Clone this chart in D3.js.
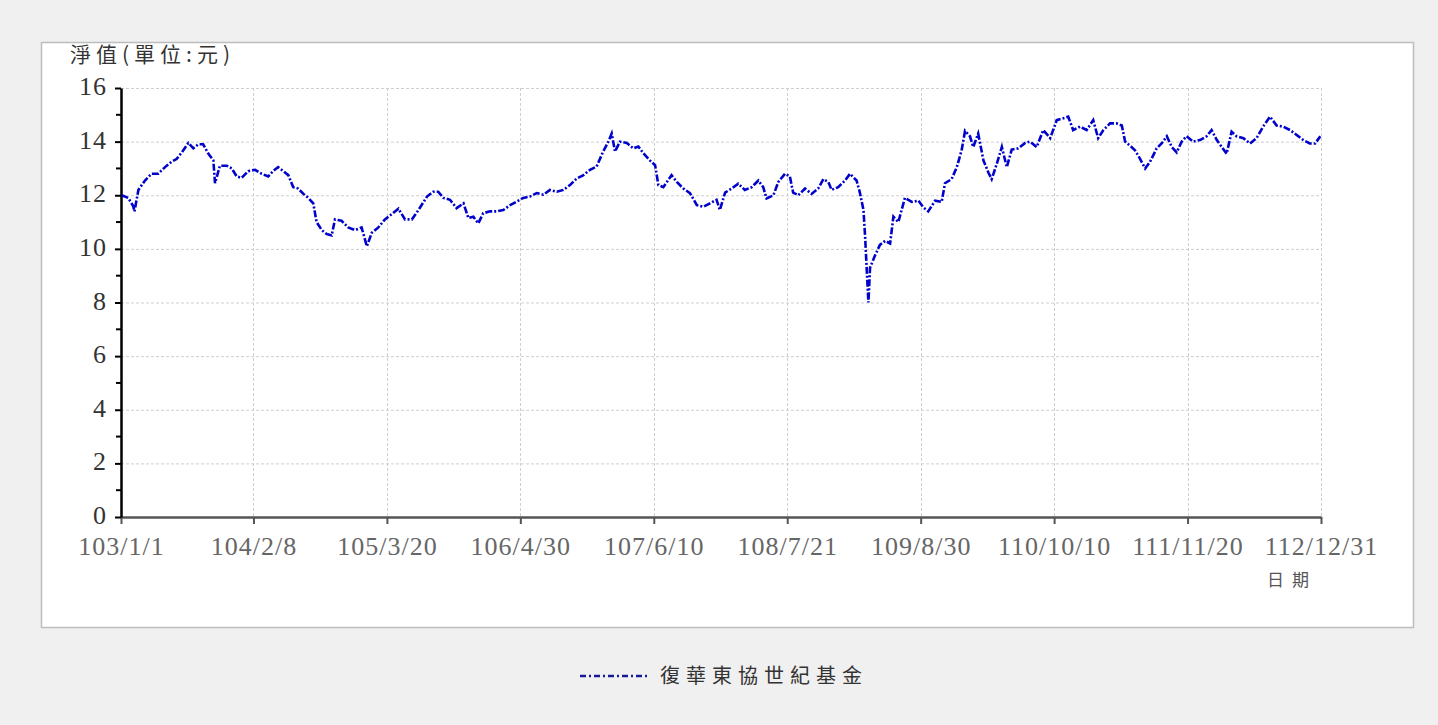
<!DOCTYPE html>
<html>
<head>
<meta charset="utf-8">
<script src="https://cdn.jsdelivr.net/npm/d3@7"></script>
<style>
html, body { margin: 0; padding: 0; background: #f0f0f0; }
</style>
</head>
<body>
<div id="chart"></div>
<script>
// 淨值資料
const navDates = [
	'2014-01-03','2014-01-23','2014-02-07','2014-02-11','2014-02-23','2014-03-15','2014-04-04','2014-04-24','2014-05-15','2014-06-04',
	'2014-06-19','2014-07-05','2014-07-25','2014-08-09','2014-08-24','2014-09-08','2014-09-24','2014-10-09','2014-10-14','2014-10-29',
	'2014-11-19','2014-12-04','2014-12-19','2015-01-03','2015-01-23','2015-02-13','2015-03-05','2015-03-25','2015-04-09','2015-04-24',
	'2015-05-10','2015-05-25','2015-06-09','2015-06-24','2015-07-10','2015-07-25','2015-08-09','2015-08-19','2015-09-04','2015-09-19',
	'2015-10-04','2015-10-14','2015-11-03','2015-11-23','2015-12-14','2016-01-03','2016-01-19','2016-02-03','2016-02-23','2016-03-14',
	'2016-04-04','2016-04-24','2016-05-14','2016-06-04','2016-06-24','2016-07-20','2016-08-08','2016-08-23','2016-09-08','2016-09-28',
	'2016-10-18','2016-11-08','2016-11-23','2016-12-08','2016-12-23','2017-01-07','2017-01-28','2017-02-17','2017-03-09','2017-03-30',
	'2017-04-19','2017-05-09','2017-05-29','2017-06-19','2017-07-09','2017-07-29','2017-08-19','2017-09-08','2017-09-28','2017-10-19',
	'2017-11-08','2017-11-28','2017-12-18','2018-01-07','2018-01-23','2018-02-02','2018-02-12','2018-02-27','2018-03-20','2018-04-09',
	'2018-04-24','2018-05-09','2018-05-29','2018-06-14','2018-06-24','2018-07-09','2018-08-03','2018-08-19','2018-09-08','2018-09-28',
	'2018-10-19','2018-11-08','2018-11-28','2018-12-18','2018-12-28','2019-01-13','2019-02-02','2019-02-22','2019-03-14','2019-04-04',
	'2019-04-24','2019-05-09','2019-05-19','2019-06-09','2019-06-24','2019-07-14','2019-07-29','2019-08-08','2019-08-24','2019-09-13',
	'2019-10-03','2019-10-23','2019-11-08','2019-11-23','2019-12-03','2019-12-23','2020-01-13','2020-01-28','2020-02-05','2020-02-17',
	'2020-02-27','2020-03-09','2020-03-14','2020-03-19','2020-03-24','2020-03-29','2020-04-13','2020-04-28','2020-05-14','2020-05-29',
	'2020-06-08','2020-06-23','2020-07-13','2020-08-03','2020-08-23','2020-09-07','2020-09-22','2020-10-13','2020-11-02','2020-11-12',
	'2020-12-02','2020-12-18','2021-01-02','2021-01-12','2021-01-27','2021-02-06','2021-02-21','2021-03-09','2021-03-24','2021-04-03',
	'2021-04-18','2021-05-04','2021-05-19','2021-06-03','2021-06-23','2021-07-14','2021-07-29','2021-08-18','2021-09-07','2021-09-28',
	'2021-10-18','2021-11-07','2021-11-22','2021-12-07','2021-12-28','2022-01-17','2022-02-06','2022-02-21','2022-03-09','2022-03-29',
	'2022-04-18','2022-05-04','2022-05-14','2022-05-29','2022-06-13','2022-06-28','2022-07-14','2022-07-29','2022-08-18','2022-09-02',
	'2022-09-18','2022-10-03','2022-10-18','2022-11-02','2022-11-17','2022-12-07','2022-12-28','2023-01-17','2023-02-01','2023-02-17',
	'2023-03-04','2023-03-19','2023-04-03','2023-04-18','2023-05-09','2023-05-29','2023-06-18','2023-07-08','2023-07-29','2023-08-18',
	'2023-09-07','2023-09-28','2023-10-18','2023-11-07','2023-11-27','2023-12-13','2023-12-29'
];
const navValues = [
	12.0, 11.9, 11.6, 11.4, 12.2, 12.55, 12.8, 12.8, 13.05, 13.25,
	13.35, 13.6, 13.95, 13.75, 13.9, 13.9, 13.55, 13.3, 12.45, 13.1,
	13.1, 13.0, 12.7, 12.65, 12.9, 12.95, 12.8, 12.7, 12.9, 13.05,
	12.9, 12.75, 12.3, 12.25, 12.05, 11.9, 11.7, 11.0, 10.7, 10.55,
	10.5, 11.1, 11.05, 10.8, 10.7, 10.8, 10.1, 10.6, 10.8, 11.1,
	11.3, 11.5, 11.1, 11.1, 11.45, 11.95, 12.13, 12.13, 11.9, 11.83,
	11.52, 11.7, 11.15, 11.2, 10.95, 11.33, 11.4, 11.4, 11.45, 11.63,
	11.76, 11.9, 11.95, 12.08, 12.02, 12.2, 12.13, 12.2, 12.38, 12.63,
	12.75, 12.95, 13.07, 13.63, 14.0, 14.3, 13.63, 14.0, 13.95, 13.75,
	13.82, 13.57, 13.3, 13.12, 12.38, 12.3, 12.75, 12.5, 12.25, 12.08,
	11.63, 11.57, 11.7, 11.83, 11.45, 12.1, 12.25, 12.43, 12.2, 12.3,
	12.55, 12.3, 11.88, 12.0, 12.5, 12.8, 12.7, 12.1, 12.0, 12.25,
	12.05, 12.25, 12.6, 12.5, 12.2, 12.3, 12.55, 12.8, 12.7, 12.55,
	12.1, 11.45, 10.45, 9.2, 8.0, 9.3, 9.75, 10.15, 10.3, 10.2,
	11.2, 11.0, 11.9, 11.75, 11.8, 11.55, 11.4, 11.8, 11.75, 12.45,
	12.6, 13.05, 13.7, 14.4, 14.2, 13.8, 14.3, 13.3, 12.85, 12.6,
	13.15, 13.8, 13.05, 13.7, 13.75, 13.95, 14.0, 13.8, 14.43, 14.13,
	14.8, 14.87, 14.93, 14.43, 14.56, 14.43, 14.8, 14.13, 14.43, 14.68,
	14.68, 14.6, 14.0, 13.85, 13.68, 13.37, 13.0, 13.25, 13.75, 13.93,
	14.2, 13.8, 13.6, 14.0, 14.2, 14.0, 14.06, 14.2, 14.43, 14.06,
	13.8, 13.55, 14.37, 14.2, 14.13, 13.93, 14.13, 14.56, 14.93, 14.6,
	14.56, 14.43, 14.25, 14.06, 13.93, 13.93, 14.2
];

// 民國日期刻度
const xTickLabels = ['103/1/1', '104/2/8', '105/3/20', '106/4/30', '107/6/10', '108/7/21', '109/8/30', '110/10/10', '111/11/20', '112/12/31'];
const yTicks = [0, 2, 4, 6, 8, 10, 12, 14, 16];
const yMinorTicks = [1, 3, 5, 7, 9, 11, 13, 15];
const seriesName = '復華東協世紀基金';

const options = {
	w: 1438,
	h: 725,
	left: 121,
	right: 1321,
	top: 88,
	bottom: 517,
	lineColor: '#0000cc',
	numFont: '"Liberation Serif", "Times New Roman", serif',
	cjkFont: '"Noto Sans CJK TC", "Noto Sans CJK SC", sans-serif'
};

const rocToDate = s => {
	const [y, m, d] = s.split('/').map(Number);
	return new Date(Date.UTC(y + 1911, m - 1, d));
};

const data = navDates.map((d, i) => ({ date: new Date(d + 'T00:00:00Z'), value: navValues[i] }));
const xTickDates = xTickLabels.map(rocToDate);

const x = d3.scaleUtc()
	.domain([xTickDates[0], xTickDates[xTickDates.length - 1]])
	.range([options.left, options.right]);
const y = d3.scaleLinear().domain([0, 16]).range([options.bottom, options.top]);

const svg = d3.select('#chart').append('svg')
	.attr('width', options.w)
	.attr('height', options.h)
	.style('display', 'block');

// 背景面板
svg.append('rect')
	.attr('x', 41.5).attr('y', 42.5)
	.attr('width', 1372).attr('height', 585)
	.attr('fill', '#fff')
	.attr('stroke', '#bdbdbd')
	.attr('stroke-width', 1.5);

// 格線
const grid = svg.append('g').attr('class', 'grid');
grid.selectAll('line.h')
	.data(yTicks.filter(v => v > 0))
	.enter().append('line')
	.attr('x1', options.left).attr('x2', options.right)
	.attr('y1', d => y(d) + 0.5).attr('y2', d => y(d) + 0.5)
	.attr('stroke', '#cfcfcf')
	.attr('stroke-dasharray', '3,2');
grid.selectAll('line.v')
	.data(xTickDates.slice(1))
	.enter().append('line')
	.attr('x1', d => Math.round(x(d)) + 0.5).attr('x2', d => Math.round(x(d)) + 0.5)
	.attr('y1', options.top).attr('y2', options.bottom)
	.attr('stroke', '#cfcfcf')
	.attr('stroke-dasharray', '3,2');

// X 軸
const xAxis = d3.axisBottom(x)
	.tickValues(xTickDates)
	.tickFormat((d, i) => xTickLabels[i])
	.tickSize(7)
	.tickSizeOuter(0);

const gx = svg.append('g')
	.attr('transform', `translate(0,${options.bottom})`)
	.call(xAxis);
gx.select('.domain').attr('stroke', '#555').attr('stroke-width', 2.5);
gx.selectAll('.tick line').attr('stroke', '#555').attr('stroke-width', 2);
gx.selectAll('.tick text')
	.attr('y', 20)
	.attr('dy', '0.71em')
	.style('font-family', options.numFont)
	.style('font-size', '26px')
	.style('letter-spacing', '1px')
	.attr('fill', '#666');

// Y 軸
const yAxis = d3.axisLeft(y)
	.tickValues(yTicks)
	.tickSize(6)
	.tickSizeOuter(0);

const gy = svg.append('g')
	.attr('transform', `translate(${options.left},0)`)
	.call(yAxis);
gy.select('.domain').attr('stroke', '#000').attr('stroke-width', 2.5);
gy.selectAll('.tick line').attr('stroke', '#000').attr('stroke-width', 2);
gy.selectAll('.tick text')
	.attr('x', -14)
	.attr('dy', '0.25em')
	.style('font-family', options.numFont)
	.style('font-size', '26px')
	.style('letter-spacing', '1px')
	.attr('fill', '#333');

gy.selectAll('line.minor')
	.data(yMinorTicks)
	.enter().append('line')
	.attr('class', 'minor')
	.attr('x1', -5).attr('x2', 0)
	.attr('y1', d => y(d)).attr('y2', d => y(d))
	.attr('stroke', '#000')
	.attr('stroke-width', 2);

// 折線
const line = d3.line()
	.curve(d3.curveLinear)
	.x(d => x(d.date))
	.y(d => y(d.value));

svg.append('path')
	.datum(data)
	.attr('d', line)
	.attr('fill', 'none')
	.attr('stroke', options.lineColor)
	.attr('stroke-width', 2.6)
	.attr('stroke-dasharray', '7,2,2,2');

// 標題文字
svg.append('text')
	.attr('x', 70).attr('y', 62)
	.text('淨值(單位:元)')
	.style('font-family', options.cjkFont)
	.style('font-size', '21px')
	.style('letter-spacing', '5px')
	.attr('fill', '#333');

svg.append('text')
	.attr('x', 1292).attr('y', 586)
	.attr('text-anchor', 'middle')
	.text('日期')
	.style('font-family', options.cjkFont)
	.style('font-size', '17px')
	.style('letter-spacing', '8px')
	.attr('fill', '#555');

// 圖例
const legend = svg.append('g').attr('transform', 'translate(580,676)');
legend.append('line')
	.attr('x1', 0).attr('x2', 70)
	.attr('y1', 0).attr('y2', 0)
	.attr('stroke', '#1a1a99')
	.attr('stroke-width', 2.5)
	.attr('stroke-dasharray', '6,3,2,3');
legend.append('text')
	.attr('x', 80).attr('y', 0)
	.attr('dy', '0.36em')
	.text(seriesName)
	.style('font-family', options.cjkFont)
	.style('font-size', '20px')
	.style('letter-spacing', '6px')
	.attr('fill', '#333');
</script>
</body>
</html>
